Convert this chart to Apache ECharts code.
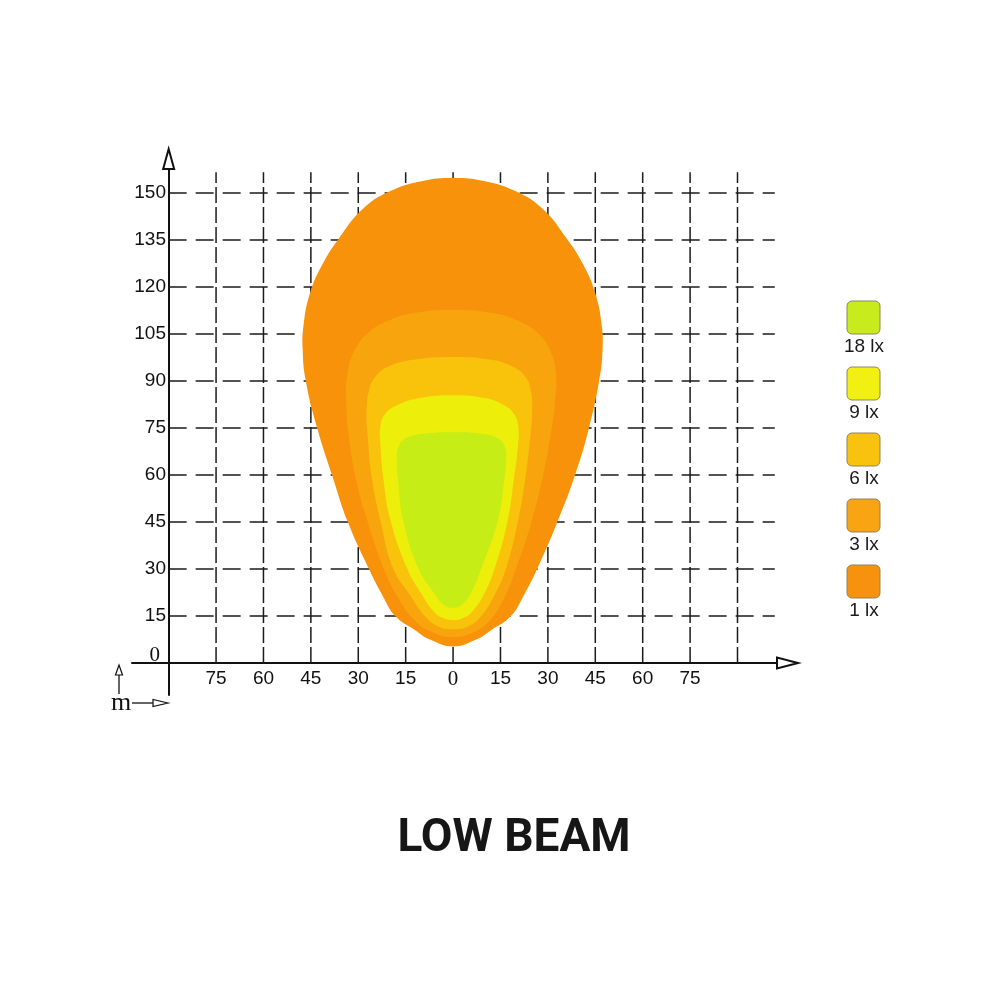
<!DOCTYPE html>
<html>
<head>
<meta charset="utf-8">
<script src="https://cdn.jsdelivr.net/npm/echarts@6/dist/echarts.min.js"></script>
<style>html,body{margin:0;padding:0;background:#fff;}#chart{width:1000px;height:1000px;}</style>
</head>
<body>
<div id="chart"></div>
<script>
// ---- tick labels / grid positions (metres) ----
const xLabelValues = [-75, -60, -45, -30, -15, 0, 15, 30, 45, 60, 75];
const yLabelValues = [0, 15, 30, 45, 60, 75, 90, 105, 120, 135, 150];
const hGridValues = [15, 30, 45, 60, 75, 90, 105, 120, 135, 150];
const vGridValues = [-75, -60, -45, -30, -15, 0, 15, 30, 45, 60, 75, 90];

// ---- legend ----
const legendLabels = ['18 lx', '9 lx', '6 lx', '3 lx', '1 lx'];
const legendColors = ['#C8EB1E', '#F2F013', '#F8C20E', '#F8A413', '#F7920E'];

// ---- isolux outlines [x (m), y (m)] ----
const lx1Outline = [[0,154.8],[10,153.8],[20,150.5],[28.3,145],[35.6,136],[41.3,127],[45,118],[47,108],[47.3,100],[46.2,90],[43,75],[38.6,60],[33,45],[26.6,30],[22.3,21.5],[18.3,15],[12,10.5],[7.3,7.5],[0,5.3],[-7.3,7.5],[-12,10.5],[-18.3,15],[-22.3,21.5],[-26.6,30],[-33.3,45],[-38.3,60],[-43,75],[-46.6,90],[-47.6,100],[-47.3,108],[-45.3,118],[-41.5,127],[-35.8,136],[-28.5,145],[-20.2,150.5],[-10,153.8]];
const lx3Outline = [[0,112.7],[12,111.8],[20.5,109.3],[26.9,105.3],[30.8,99.5],[32.6,92],[32.3,84],[31.2,75],[28.5,60],[24.8,45],[20,30.3],[16.5,21.5],[11.5,13.5],[6,9.6],[0,8.3],[-6,9.6],[-12,13.5],[-17.8,21.5],[-22,30.3],[-27,45],[-31,60],[-33.3,75],[-33.8,84],[-33.5,92],[-31.3,99.5],[-27,105.3],[-20.5,109.3],[-12,111.8]];
const lx6Outline = [[0,97.7],[11.5,96.9],[18.5,94.8],[22.8,91.5],[24.6,87],[25,80],[24.4,72],[22.8,58.4],[20.6,45.6],[16.8,30.3],[13,21.5],[8.5,14.5],[4.5,11.6],[0,10.8],[-4.5,11.6],[-8.5,14.5],[-13.5,21.5],[-19,30.3],[-23,45.6],[-25.6,58.4],[-27,72],[-27.4,80],[-26.6,87],[-24.5,91.5],[-20,94.8],[-12,96.9]];
const lx9Outline = [[0,85.5],[10,84.6],[16,82.4],[19.3,79.5],[20.6,75.5],[20.6,70],[19.2,58.4],[17.3,45.6],[13.2,30.3],[9.8,22],[6,16.3],[3,14.3],[0,13.7],[-3,14.3],[-6,16.3],[-10,22],[-14.6,30.3],[-19.8,45.6],[-22,58.4],[-23,70],[-23,75.5],[-21.5,79.5],[-17.5,82.4],[-10.5,84.6]];
const lx18Outline = [[0,73.7],[9,73.2],[14,71.8],[16.3,69.2],[16.8,65],[16.2,58.4],[14.2,45.6],[9,30.3],[5.5,22],[2.8,18.6],[0,17.6],[-3,18.6],[-5.8,22],[-11,30.3],[-15.8,45.6],[-17.4,58.4],[-17.8,65],[-17.2,69.2],[-14.8,71.8],[-9.5,73.2]];
const layerOutlines = [lx1Outline, lx3Outline, lx6Outline, lx9Outline, lx18Outline];
const layerColors = ['#F7920A', '#F8A50D', '#F8C30A', '#EEEE0B', '#C6ED15'];

const chart = echarts.init(document.getElementById('chart'), null, {renderer: 'canvas'});

const gridColor = '#1b1b1b';
const hGridFrom = -90, hGridTo = 101.8, vGridTop = 156.7;

const legendGraphics = [];
legendLabels.forEach((lab, i) => {
  const top = 301 + i * 66;
  legendGraphics.push({
    type: 'rect', x: 847, y: top, shape: {width: 33, height: 33, r: 5},
    style: {fill: legendColors[i], stroke: '#8f8363', lineWidth: 1}
  });
  legendGraphics.push({
    type: 'text', x: 864, y: top + 46,
    style: {text: lab, font: '19px "Liberation Sans", Arial, sans-serif', fill: '#1a1a1a', align: 'center', verticalAlign: 'middle', textAlign: 'center', textVerticalAlign: 'middle'}
  });
});

const option = {
  animation: false,
  backgroundColor: '#ffffff',
  grid: {left: 132, right: 223, top: 169, bottom: 305, containLabel: false},
  xAxis: [{
    type: 'value', min: -101.6, max: 102.5,
    axisLine: {show: true, onZero: true, symbol: ['none', 'emptyTriangle'], symbolSize: [11, 21], symbolOffset: [0, 10.5],
      lineStyle: {color: '#111', width: 2}},
    axisTick: {show: false},
    splitLine: {show: false},
    axisLabel: {
      customValues: xLabelValues, margin: -26, color: '#111',
      fontFamily: '"Liberation Sans", Arial, sans-serif', fontSize: 19,
      formatter: v => v === 0 ? '{z|0}' : String(Math.abs(v)),
      rich: {z: {fontFamily: '"Liberation Serif", "Times New Roman", serif', fontSize: 21, color: '#111'}}
    }
  }, {
    type: 'value', min: -11.6, max: 192.5, show: false,
    axisLine: {show: false}, axisLabel: {show: false}, splitLine: {show: false}, axisTick: {show: false}
  }],
  yAxis: {
    type: 'value', min: -10.2, max: 157.7,
    axisLine: {show: true, onZero: true, onZeroAxisIndex: 1, symbol: ['none', 'emptyTriangle'], symbolSize: [11, 20], symbolOffset: [0, 10],
      lineStyle: {color: '#111', width: 2}},
    axisTick: {show: false},
    splitLine: {show: false},
    axisLabel: {
      customValues: yLabelValues, margin: -34, color: '#111',
      fontFamily: '"Liberation Sans", Arial, sans-serif', fontSize: 19,
      formatter: v => v === 0 ? '{z|0}' : String(v),
      rich: {z: {fontFamily: '"Liberation Serif", "Times New Roman", serif', fontSize: 21, color: '#111', padding: [0, 6, 16, 0]}}
    }
  },
  series: [
    {
      type: 'custom', name: 'hgrid', z: 2, silent: true,
      data: hGridValues.map(v => [0, v]),
      renderItem: (params, api) => {
        const v = api.value(1);
        const a = api.coord([hGridFrom, v]);
        const b = api.coord([hGridTo, v]);
        return {type: 'line', shape: {x1: a[0], y1: a[1], x2: b[0], y2: b[1]},
          style: {stroke: gridColor, lineWidth: 1.5, lineDash: [18, 9], fill: null}};
      }
    },
    {
      type: 'custom', name: 'vgrid', z: 2, silent: true,
      data: vGridValues.map(v => [v, 0]),
      renderItem: (params, api) => {
        const v = api.value(0);
        const a = api.coord([v, 0]);
        const b = api.coord([v, vGridTop]);
        return {type: 'line', shape: {x1: a[0], y1: a[1], x2: b[0], y2: b[1]},
          style: {stroke: gridColor, lineWidth: 1.5, lineDash: [16, 4], fill: null}};
      }
    },
    {
      type: 'custom', name: 'isolux', z: 3, silent: true,
      data: layerOutlines.map(() => [0, 0]),
      renderItem: (params, api) => {
        const pts = layerOutlines[params.dataIndex].map(p => api.coord(p));
        return {type: 'polygon', shape: {points: pts, smooth: 0.45},
          style: {fill: layerColors[params.dataIndex], stroke: null}};
      }
    }
  ],
  graphic: [
    // small "m" axis key
    {type: 'text', x: 121, y: 703, style: {text: 'm', font: '26px "Liberation Serif", "Times New Roman", serif', fill: '#111', align: 'center', verticalAlign: 'middle', textAlign: 'center', textVerticalAlign: 'middle'}},
    {type: 'line', shape: {x1: 119, y1: 674, x2: 119, y2: 694}, style: {stroke: '#111', lineWidth: 1.3}},
    {type: 'polygon', shape: {points: [[119, 665], [122.5, 675], [115.5, 675]]}, style: {fill: '#fff', stroke: '#111', lineWidth: 1.2}},
    {type: 'line', shape: {x1: 132, y1: 703, x2: 153, y2: 703}, style: {stroke: '#111', lineWidth: 1.3}},
    {type: 'polygon', shape: {points: [[168, 703], [153, 699.5], [153, 706.5]]}, style: {fill: '#fff', stroke: '#111', lineWidth: 1.2}},
    // title
    {type: 'text', x: 514, y: 839, style: {text: 'LOW BEAM', font: 'bold 46px Roboto, "Liberation Sans", sans-serif', fill: '#161616', align: 'center', verticalAlign: 'middle', textAlign: 'center', textVerticalAlign: 'middle'}}
  ].concat(legendGraphics)
};

chart.setOption(option);
</script>
</body>
</html>
